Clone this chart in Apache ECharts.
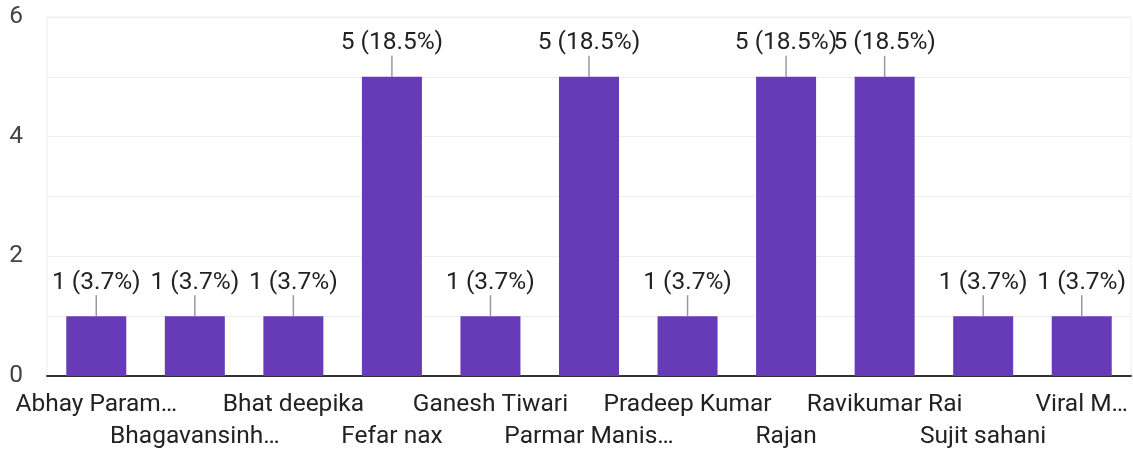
<!DOCTYPE html>
<html>
<head>
<meta charset="utf-8">
<script src="https://cdn.jsdelivr.net/npm/echarts@6/dist/echarts.min.js"></script>
<style>
  html, body { margin: 0; padding: 0; background: #fff; }
  #chart { width: 1133px; height: 450px; }
</style>
</head>
<body>
<div id="chart"></div>
<script>
// data
const categories = [
  'Abhay Param…', 'Bhagavansinh…', 'Bhat deepika', 'Fefar nax', 'Ganesh Tiwari',
  'Parmar Manis…', 'Pradeep Kumar', 'Rajan', 'Ravikumar Rai', 'Sujit sahani', 'Viral M…'
];
const counts = [1, 1, 1, 5, 1, 5, 1, 5, 5, 1, 1];
const yTicks = [0, 2, 4, 6];

const total = counts.reduce((a, b) => a + b, 0);

const chart = echarts.init(document.getElementById('chart'));

const option = {
  animation: false,
  textStyle: { fontFamily: 'Roboto, Arial, sans-serif' },
  grid: {
    left: 47,
    right: 2,
    top: 17,
    bottom: 74,
    outerBoundsMode: 'none',
    show: true,
    borderColor: '#eeeeee',
    borderWidth: 1
  },
  xAxis: {
    type: 'category',
    data: categories,
    axisLine: { lineStyle: { color: '#333', width: 2 } },
    axisTick: { show: false },
    axisLabel: {
      interval: 0,
      color: '#222',
      fontSize: 24.5,
      margin: 13,
      lineHeight: 32,
      formatter: (value, idx) => (idx % 2 === 1 ? '\n' + value : value)
    }
  },
  yAxis: {
    type: 'value',
    min: 0,
    max: 6,
    interval: 1,
    axisLine: { show: false },
    axisTick: { show: false },
    axisLabel: {
      color: '#444',
      fontSize: 24.5,
      margin: 24,
      formatter: (v) => (yTicks.includes(v) ? String(v) : '')
    },
    splitLine: { lineStyle: { color: '#eeeeee', width: 1 } }
  },
  series: [{
    type: 'bar',
    data: counts,
    barWidth: 60,
    itemStyle: { color: '#673ab7' },
    label: {
      show: true,
      position: 'top',
      distance: 0,
      color: '#222',
      fontSize: 24.5,
      formatter: (p) => p.value + ' (' + (p.value / total * 100).toFixed(1) + '%)'
    },
    labelLayout: { dy: -21 },
    labelLine: {
      show: true,
      lineStyle: { color: '#999', width: 1.5 }
    }
  }]
};

chart.setOption(option);
</script>
</body>
</html>
